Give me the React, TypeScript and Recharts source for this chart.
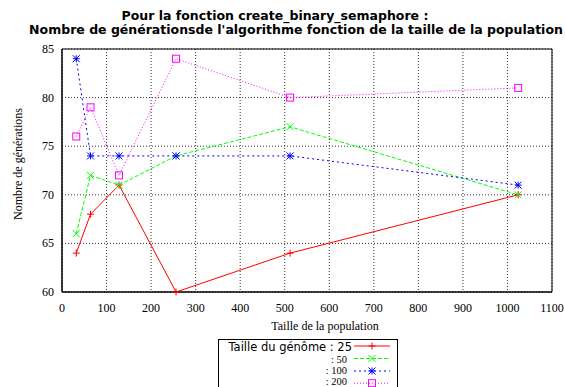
import React from "react";
import { LineChart, Line, XAxis, YAxis, CartesianGrid, ReferenceArea } from "recharts";

const populations = [32, 64, 128, 256, 512, 1024];
const genome25 = [64, 68, 71, 60, 64, 70];
const genome50 = [66, 72, 71, 74, 77, 70];
const genome100 = [84, 74, 74, 74, 74, 71];
const genome200 = [76, 79, 72, 84, 80, 81];
const xTicks = [0, 100, 200, 300, 400, 500, 600, 700, 800, 900, 1000, 1100];
const yTicks = [60, 65, 70, 75, 80, 85];
const legendLabels = ["25", "50", "100", "200"];

const rows = populations.map((x, i) => ({
  x,
  g25: genome25[i],
  g50: genome50[i],
  g100: genome100[i],
  g200: genome200[i],
}));

const RED = "#ff0000";
const GREEN = "#00ff00";
const BLUE = "#0000ff";
const MAGENTA = "#ff00ff";
const SERIF = "Liberation Serif";

type MK = "plus" | "cross" | "star" | "square";

function markerEl(kind: MK, cx: number, cy: number, color: string, key?: string | number) {
  const s = 3.5;
  if (kind === "plus")
    return (
      <g key={key}>
        <line x1={cx - s} y1={cy} x2={cx + s} y2={cy} stroke={color} strokeWidth={1} />
        <line x1={cx} y1={cy - s} x2={cx} y2={cy + s} stroke={color} strokeWidth={1} />
      </g>
    );
  if (kind === "cross")
    return (
      <g key={key}>
        <line x1={cx - s} y1={cy - s} x2={cx + s} y2={cy + s} stroke={color} strokeWidth={1} />
        <line x1={cx - s} y1={cy + s} x2={cx + s} y2={cy - s} stroke={color} strokeWidth={1} />
      </g>
    );
  if (kind === "star")
    return (
      <g key={key}>
        <line x1={cx - s} y1={cy} x2={cx + s} y2={cy} stroke={color} strokeWidth={1} />
        <line x1={cx} y1={cy - s} x2={cx} y2={cy + s} stroke={color} strokeWidth={1} />
        <line x1={cx - s} y1={cy - s} x2={cx + s} y2={cy + s} stroke={color} strokeWidth={1} />
        <line x1={cx - s} y1={cy + s} x2={cx + s} y2={cy - s} stroke={color} strokeWidth={1} />
      </g>
    );
  return (
    <rect key={key} x={cx - s} y={cy - s} width={2 * s} height={2 * s} fill="none" stroke={color} strokeWidth={1} />
  );
}

const makeDot = (kind: MK, color: string) => (props: any) => {
  const { cx, cy, index } = props;
  if (cx == null || cy == null) return <g key={index} />;
  return markerEl(kind, cx, cy, color, index);
};

const XTick = (props: any) => {
  const { x, y, payload } = props;
  return (
    <text x={x} y={y + 9} textAnchor="middle" fontFamily={SERIF} fontSize={12} fill="#000">
      {payload.value}
    </text>
  );
};

const YTick = (props: any) => {
  const { x, y, payload } = props;
  return (
    <text x={x} y={y + 4} textAnchor="end" fontFamily={SERIF} fontSize={12} fill="#000">
      {payload.value}
    </text>
  );
};

const series: { key: string; color: string; dash?: string; kind: MK }[] = [
  { key: "g25", color: RED, kind: "plus" },
  { key: "g50", color: GREEN, dash: "4 2", kind: "cross" },
  { key: "g100", color: BLUE, dash: "2 3", kind: "star" },
  { key: "g200", color: MAGENTA, dash: "1 2", kind: "square" },
];

const legendBaselines = [351, 362.8, 374, 385.2];
const legendLineY = [346, 358.5, 371, 383.2];

export default function App() {
  return (
    <div style={{ position: "fixed", left: 0, top: 0, width: 565, height: 387, background: "#fff" }}>
      <LineChart
        width={565}
        height={387}
        data={rows}
        margin={{ top: 49, right: 13, bottom: 65, left: 32 }}
      >
        <CartesianGrid stroke="#333" strokeDasharray="1 2" />
        <XAxis
          dataKey="x"
          type="number"
          domain={[0, 1100]}
          ticks={xTicks}
          interval={0}
          height={30}
          tickLine={false}
          tickSize={6}
          tickMargin={5}
          axisLine={{ stroke: "#000" }}
          tick={<XTick />}
        />
        <YAxis
          type="number"
          domain={[60, 85]}
          ticks={yTicks}
          interval={0}
          width={30}
          tickLine={false}
          axisLine={{ stroke: "#000" }}
          tick={<YTick />}
        />
        <ReferenceArea x1={0} x2={1100} y1={60} y2={85} fill="none" stroke="#000" strokeWidth={1} />
        {series.map((s) => (
          <Line
            key={s.key}
            dataKey={s.key}
            type="linear"
            stroke={s.color}
            strokeWidth={1}
            strokeDasharray={s.dash}
            dot={makeDot(s.kind, s.color)}
            activeDot={false}
            isAnimationActive={false}
          />
        ))}
      </LineChart>
      <svg
        width={565}
        height={387}
        style={{ position: "absolute", left: 0, top: 0, pointerEvents: "none" }}
      >
        <g fontFamily="DejaVu Sans" fontWeight="bold" fontSize={12.5} fill="#000" textAnchor="middle">
          <text x={275} y={20}>Pour la fonction create_binary_semaphore :</text>
          <text x={296} y={34}>Nombre de générationsde l'algorithme fonction de la taille de la population</text>
        </g>
        <text
          x={0}
          y={0}
          transform="translate(22,164) rotate(-90)"
          textAnchor="middle"
          fontFamily={SERIF}
          fontSize={12}
        >
          Nombre de générations
        </text>
        <text x={325} y={330} textAnchor="middle" fontFamily={SERIF} fontSize={12}>
          Taille de la population
        </text>
        <rect x={218.5} y={339.5} width={179} height={60} fill="none" stroke="#000" strokeWidth={1} />
        {series.map((s, i) => {
          const y = legendLineY[i];
          const baseline = legendBaselines[i];
          return (
            <g key={s.key}>
              {i === 0 ? (
                <text x={352} y={baseline} textAnchor="end" fontFamily="DejaVu Sans" fontSize={11.5}>
                  Taille du génôme : {legendLabels[i]}
                </text>
              ) : (
                <text x={347} y={baseline} textAnchor="end" fontFamily={SERIF} fontSize={10.5}>
                  : {legendLabels[i]}
                </text>
              )}
              <line x1={354} y1={y} x2={390} y2={y} stroke={s.color} strokeWidth={1} strokeDasharray={s.dash} />
              {markerEl(s.kind, 372, y, s.color)}
            </g>
          );
        })}
      </svg>
    </div>
  );
}
